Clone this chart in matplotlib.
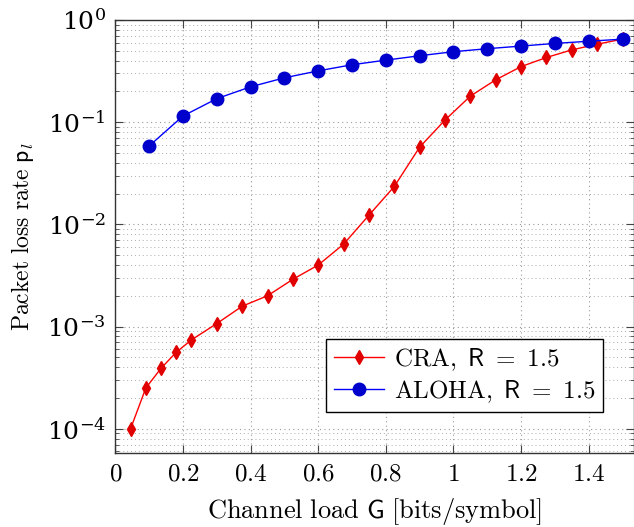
import numpy as np
import matplotlib
matplotlib.use("Agg")
import matplotlib.pyplot as plt
from matplotlib.ticker import LogLocator, FixedLocator, FuncFormatter, NullFormatter

plt.rcParams["mathtext.fontset"] = "cm"
plt.rcParams["font.family"] = "serif"
plt.rcParams["font.serif"] = ["DejaVu Serif"]

# CRA, R = 1.5
cra_g = [0.045, 0.09, 0.135, 0.18, 0.225, 0.30, 0.375, 0.45, 0.525, 0.60, 0.675,
         0.75, 0.825, 0.90, 0.975, 1.05, 1.125, 1.20, 1.275, 1.35, 1.425, 1.50]
cra_pl = [1.0e-4, 2.5e-4, 3.9e-4, 5.6e-4, 7.4e-4, 1.07e-3, 1.58e-3, 2.0e-3, 2.9e-3,
          4.0e-3, 6.4e-3, 1.23e-2, 2.35e-2, 5.7e-2, 0.105, 0.18, 0.26, 0.35, 0.43,
          0.51, 0.58, 0.65]

# ALOHA, R = 1.5
aloha_g = [0.1, 0.2, 0.3, 0.4, 0.5, 0.6, 0.7, 0.8, 0.9, 1.0, 1.1, 1.2, 1.3, 1.4, 1.5]
aloha_pl = [0.0586, 0.115, 0.17, 0.222, 0.272, 0.318, 0.365, 0.405, 0.447, 0.49,
            0.524, 0.556, 0.59, 0.62, 0.65]

xticks = [0, 0.2, 0.4, 0.6, 0.8, 1.0, 1.2, 1.4]

fig = plt.figure(figsize=(6.34, 5.27), dpi=100)
ax = fig.add_axes([0.182, 0.140, 0.818, 0.822])

ax.plot(cra_g, cra_pl, color="#ff0000", lw=1.0, marker="d", ms=7,
        mfc="#e00000", mec="#e00000", label=r"$\mathrm{CRA,\ }\mathsf{R}\ =\ 1.5$", zorder=3)
ax.plot(aloha_g, aloha_pl, color="#0000ff", lw=1.0, marker="o", ms=9,
        mfc="#0000cc", mec="#0000cc", label=r"$\mathrm{ALOHA,\ }\mathsf{R}\ =\ 1.5$", zorder=3)

ax.set_yscale("log")
ax.set_xlim(0, 1.534)
ax.set_ylim(10 ** -4.24, 1)

ax.xaxis.set_major_locator(FixedLocator(xticks))
ax.xaxis.set_major_formatter(FuncFormatter(lambda v, p: r"$%g$" % v))
ax.yaxis.set_major_locator(LogLocator(base=10, numticks=10))
ax.yaxis.set_minor_locator(LogLocator(base=10, subs=np.arange(2, 10), numticks=20))
ax.yaxis.set_minor_formatter(NullFormatter())

ax.tick_params(axis="both", which="both", direction="in", top=True, right=True,
               labelsize=18, color="#444444")
ax.tick_params(axis="both", which="major", length=6, pad=7)
ax.tick_params(axis="both", which="minor", length=3)

ax.grid(True, which="major", ls=(0, (1, 3)), color="#999999", lw=0.8)
ax.grid(True, which="minor", axis="y", ls=(0, (1, 3)), color="#aaaaaa", lw=0.7)

for s in ax.spines.values():
    s.set_color("#333333")
    s.set_linewidth(1.0)

ax.set_xlabel(r"$\mathrm{Channel\ load\ }\mathsf{G}\mathrm{\ [bits/symbol]}$", fontsize=19)
ax.xaxis.set_label_coords(0.5, -0.098)
ax.set_ylabel(r"$\mathrm{Packet\ loss\ rate\ }\mathsf{p}_l$", fontsize=17, labelpad=8)

leg = ax.legend(loc="lower right", bbox_to_anchor=(0.94, 0.095), fontsize=18,
                frameon=True, fancybox=False, edgecolor="black", framealpha=1,
                handlelength=2.0, borderpad=0.3, labelspacing=0.2, handletextpad=0.4,
                borderaxespad=0)
leg.get_frame().set_linewidth(1.0)

fig.savefig("out.png", dpi=100)
